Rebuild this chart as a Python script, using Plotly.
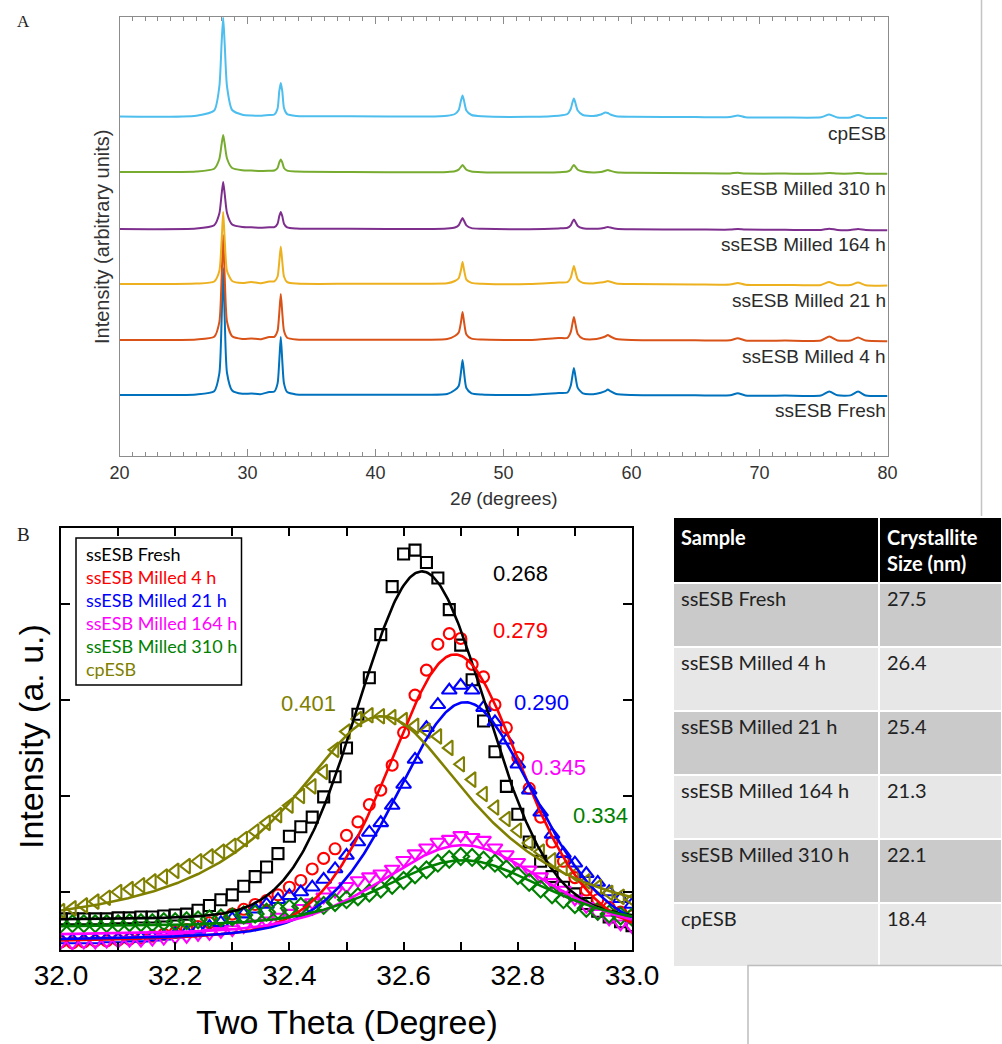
import numpy as np
import plotly.graph_objects as go

W, H = 1002, 1044

# ---------------- Panel A: full XRD patterns (arbitrary units above each baseline) ----------------
TWO_THETA = [20.0, 26.0, 27.4, 27.8, 27.98, 28.1, 28.22, 28.4, 28.8, 29.6,
             30.3, 31.0, 31.7,
             32.1, 32.35, 32.48, 32.6, 32.72, 32.85, 33.1, 33.8,
             38.0, 44.0,
             45.6, 46.2, 46.5, 46.68, 46.8, 46.92, 47.1, 47.5, 48.3,
             52.0,
             54.3, 55.0, 55.25, 55.38, 55.5, 55.62, 55.8, 56.2, 57.0,
             57.6, 57.95, 58.15, 58.35, 58.8, 60.0,
             65.0,
             67.7, 68.3, 68.9,
             72.0,
             74.8, 75.45, 76.1,
             77.1, 77.7, 78.3, 80.0]

XRD_FRESH = [0, 0.6, 3.8, 21.6, 76, 127, 76, 22, 4.5, 1.2,
             1.5, 0.8, 3.0,
             3.5, 11.6, 33.6, 58, 33.6, 11.6, 2.9, 0.6,
             0.2, 0.3,
             1.0, 5.0, 9.0, 23.0, 35.0, 22.4, 7.0, 1.7, 0.5,
             0.0,
             2.0, 2.5, 9.2, 18.7, 27.0, 18.7, 7.1, 1.6, 0.8,
             2.2, 3.8, 5.5, 3.8, 1.0, 0.0,
             -0.3,
             -0.3, 1.8, -0.4,
             -0.6,
             -0.5, 3.5, -0.3,
             -0.4, 3.4, -0.5, -1.0]

XRD_4H = [0, 0.5, 3.2, 17.9, 63, 105, 63, 18.2, 3.7, 1.1,
          1.5, 0.8, 3.0,
          3.2, 9.2, 26.7, 46, 26.7, 9.2, 2.3, 0.5,
          0.2, 0.3,
          0.9, 4.0, 7.5, 18.0, 28.0, 18.0, 5.6, 1.4, 0.4,
          0.0,
          2.0, 2.2, 7.8, 15.9, 23.0, 15.9, 6.0, 1.4, 0.7,
          2.0, 3.5, 5.0, 3.5, 1.0, 0.0,
          -0.3,
          -0.3, 1.8, -0.4,
          -0.6,
          -0.5, 3.5, -0.4,
          -0.5, 2.5, -0.6, -1.2]

XRD_21H = [0, 0.4, 2.5, 13, 44, 72, 44, 13, 3.0, 1.0,
           2.0, 0.8, 2.5,
           2.6, 7.5, 22, 37.5, 22, 7.5, 1.9, 0.4,
           0.2, 0.3,
           0.7, 3.0, 5.8, 14, 22, 14, 4.4, 1.1, 0.3,
           0.0,
           1.5, 1.8, 6.1, 12.4, 18, 12.4, 4.7, 1.1, 0.6,
           1.4, 2.2, 3.0, 2.2, 0.6, 0.0,
           -0.5,
           -0.6, 1.0, -0.7,
           -0.9,
           -0.9, 2.0, -1.0,
           -1.1, 1.5, -1.2, -1.6]

XRD_164H = [0, 0.5, 3.8, 15.5, 35, 47, 35, 16, 4.5, 2.0,
            1.8, 1.3, 1.8,
            1.8, 5.3, 12.7, 17, 12.7, 5.3, 1.6, 0.5,
            0.2, 0.1,
            0.6, 1.5, 3.8, 8.2, 11, 8.2, 3.6, 0.9, 0.3,
            -0.2,
            0.6, 1.2, 3.6, 7.1, 9.5, 7.1, 3.1, 0.8, 0.2,
            0.5, 1.4, 2.0, 1.4, 0.2, -0.3,
            -0.5,
            -0.6, -0.1, -0.6,
            -0.8,
            -0.9, 0.3, -0.9,
            -1.0, 0.0, -1.0, -1.2]

XRD_310H = [0, 0.5, 3.3, 13, 28, 37, 28, 13.5, 4.0, 1.8,
            1.5, 1.0, 1.3,
            1.5, 4.0, 9.4, 12.5, 9.4, 4.0, 1.3, 0.4,
            0.0, -0.3,
            0.1, 0.8, 2.4, 5.2, 7.0, 5.2, 2.3, 0.5, -0.2,
            -0.6,
            -0.2, 0.5, 2.3, 5.2, 7.0, 5.2, 2.3, 0.5, -0.4,
            0.0, 1.2, 2.0, 1.2, -0.2, -0.8,
            -1.2,
            -1.4, -0.8, -1.5,
            -1.6,
            -1.6, -0.9, -1.6,
            -1.6, -1.0, -1.7, -1.8]

XRD_CP = [0, 0.8, 6, 30, 74, 99, 72, 30, 6.5, 1.8,
          1.0, 0.8, 1.5,
          2.0, 8.0, 25, 33.5, 25, 8.5, 2.4, 0.6,
          0.2, 0.0,
          0.8, 2.5, 6.5, 16, 21, 15.5, 6.0, 1.5, 0.2,
          -0.3,
          0.8, 2.5, 7.5, 13.8, 18, 13.5, 6.0, 1.5, 0.4,
          2.0, 4.0, 3.5, 2.0, 0.3, -0.2,
          -0.6,
          -0.6, 1.0, -0.7,
          -1.0,
          -0.8, 2.0, -1.0,
          -0.9, 1.5, -1.2, -1.5]

XRD_NAMES = ["ssESB Fresh", "ssESB Milled 4 h", "ssESB Milled 21 h",
             "ssESB Milled 164 h", "ssESB Milled 310 h", "cpESB"]
XRD_SERIES = [XRD_FRESH, XRD_4H, XRD_21H, XRD_164H, XRD_310H, XRD_CP]
XRD_OFFSET = [61, 116, 172, 227, 284, 339.5]          # vertical stacking of the patterns
XRD_COLORS = ["#0072BD", "#D95319", "#EDB120", "#7E2F8E", "#77AC30", "#4DBEEE"]

# ---------------- Panel B: peak near 32.6 deg, measured points and fits ----------------
THETA_B = [32.00, 32.02, 32.04, 32.06, 32.08, 32.10, 32.12, 32.14, 32.16, 32.18,
           32.20, 32.22, 32.24, 32.26, 32.28, 32.30, 32.32, 32.34, 32.36, 32.38,
           32.40, 32.42, 32.44, 32.46, 32.48, 32.50, 32.52, 32.54, 32.56, 32.58,
           32.60, 32.62, 32.64, 32.66, 32.68, 32.70, 32.72, 32.74, 32.76, 32.78,
           32.80, 32.82, 32.84, 32.86, 32.88, 32.90, 32.92, 32.94, 32.96, 32.98, 33.00]

PEAK_FRESH = [0.72, 0.72, 0.72, 0.72, 0.72, 0.73, 0.73, 0.74, 0.74, 0.75,
              0.76, 0.77, 0.81, 0.86, 0.92, 0.97, 1.06, 1.16, 1.26, 1.40,
              1.58, 1.68, 1.78, 1.99, 2.20, 2.50, 2.85, 3.23, 3.68, 4.18,
              4.52, 4.56, 4.43, 4.27, 3.94, 3.57, 3.21, 2.78, 2.46, 2.10,
              1.81, 1.52, 1.32, 1.16, 1.05, 0.98, 0.88, 0.80, 0.74, 0.69, 0.65]
PEAK_4H = [0.48, 0.47, 0.48, 0.49, 0.49, 0.50, 0.51, 0.52, 0.54, 0.56,
           0.58, 0.61, 0.64, 0.68, 0.72, 0.77, 0.82, 0.87, 0.91, 0.97,
           1.05, 1.12, 1.24, 1.35, 1.45, 1.59, 1.73, 1.91, 2.06, 2.32,
           2.66, 3.05, 3.31, 3.58, 3.69, 3.64, 3.37, 3.24, 2.95, 2.71,
           2.40, 2.08, 1.78, 1.52, 1.32, 1.15, 1.02, 0.92, 0.84, 0.79, 0.75]
PEAK_21H = [0.50, 0.50, 0.50, 0.50, 0.51, 0.51, 0.52, 0.52, 0.53, 0.54,
            0.56, 0.58, 0.61, 0.64, 0.68, 0.72, 0.77, 0.82, 0.87, 0.92,
            0.96, 1.00, 1.05, 1.13, 1.24, 1.38, 1.52, 1.62, 1.72, 1.90,
            2.12, 2.38, 2.71, 2.95, 3.10, 3.15, 3.10, 2.92, 2.77, 2.58,
            2.33, 2.06, 1.83, 1.60, 1.40, 1.30, 1.19, 1.10, 1.00, 0.93, 0.87]
PEAK_164H = [0.48, 0.47, 0.48, 0.48, 0.49, 0.49, 0.50, 0.50, 0.51, 0.52,
             0.53, 0.54, 0.56, 0.57, 0.59, 0.61, 0.64, 0.67, 0.70, 0.74,
             0.78, 0.83, 0.89, 0.95, 1.01, 1.06, 1.12, 1.16, 1.19, 1.24,
             1.33, 1.40, 1.46, 1.52, 1.55, 1.59, 1.57, 1.54, 1.46, 1.39,
             1.31, 1.23, 1.16, 1.10, 1.02, 0.93, 0.85, 0.78, 0.72, 0.67, 0.64]
PEAK_310H = [0.67, 0.67, 0.67, 0.67, 0.67, 0.67, 0.68, 0.68, 0.68, 0.69,
             0.69, 0.70, 0.71, 0.72, 0.73, 0.74, 0.76, 0.77, 0.79, 0.81,
             0.83, 0.85, 0.85, 0.86, 0.89, 0.92, 0.95, 0.99, 1.03, 1.07,
             1.12, 1.18, 1.23, 1.30, 1.34, 1.37, 1.36, 1.33, 1.30, 1.24,
             1.17, 1.10, 1.03, 0.97, 0.92, 0.87, 0.83, 0.80, 0.77, 0.75, 0.74]
PEAK_CP = [0.80, 0.83, 0.86, 0.90, 0.94, 1.00, 1.03, 1.07, 1.11, 1.16,
           1.22, 1.27, 1.32, 1.37, 1.42, 1.48, 1.55, 1.63, 1.72, 1.80,
           1.90, 2.00, 2.10, 2.25, 2.48, 2.67, 2.80, 2.84, 2.83, 2.82,
           2.79, 2.73, 2.68, 2.62, 2.50, 2.33, 2.17, 2.02, 1.88, 1.76,
           1.64, 1.51, 1.42, 1.33, 1.25, 1.18, 1.11, 1.05, 0.99, 0.95, 0.92]

PEAK_SERIES = [PEAK_FRESH, PEAK_4H, PEAK_21H, PEAK_164H, PEAK_310H, PEAK_CP]

# pseudo-Voigt fit parameters; FWHM values are the ones printed next to each curve
FIT_CENTER = [32.632, 32.690, 32.708, 32.704, 32.704, 32.562]
FIT_FWHM = [0.268, 0.279, 0.290, 0.345, 0.334, 0.401]
FIT_TOP = [4.338, 3.474, 2.976, 1.488, 1.331, 2.830]
FIT_BASE = [0.70, 0.46, 0.48, 0.54, 0.63, 0.55]
FIT_ETA = [0.1, 0.3, 0.3, 0.4, 0.4, 1.0]

B_COLORS = ["#000000", "#FF0000", "#0000FF", "#FF00FF", "#008000", "#808000"]
B_SYMBOLS = ["square-open", "circle-open", "triangle-up-open",
             "triangle-down-open", "diamond-open", "triangle-left-open"]
B_SIZES = [11, 11, 13, 13, 13, 13]

# positions of the FWHM labels (data coordinates of panel B)
FWHM_LABEL_X = [32.804, 32.804, 32.842, 32.872, 32.944, 32.433]
FWHM_LABEL_Y = [4.32, 3.72, 2.97, 2.30, 1.80, 2.96]

# ---------------- Table ----------------
TABLE_SAMPLES = ["ssESB Fresh", "ssESB Milled 4 h", "ssESB Milled 21 h",
                 "ssESB Milled 164 h", "ssESB Milled 310 h", "cpESB"]
CRYSTALLITE_NM = [27.5, 26.4, 25.4, 21.3, 22.1, 18.4]


def px(x):
    return x / W


def py(y):
    return 1 - y / H


fig = go.Figure()

# Panel A traces
for vals, off, col in zip(XRD_SERIES, XRD_OFFSET, XRD_COLORS):
    fig.add_trace(go.Scatter(
        x=TWO_THETA, y=[v + off for v in vals], mode="lines",
        line=dict(color=col, width=2.0, shape="spline", smoothing=0.6),
        xaxis="x", yaxis="y", showlegend=False, hoverinfo="skip"))


def pseudo_voigt(x, c, w, eta):
    g = np.exp(-4 * np.log(2) * ((x - c) / w) ** 2)
    lo = 1.0 / (1.0 + (2 * (x - c) / w) ** 2)
    return eta * lo + (1 - eta) * g


fit_x = np.linspace(32.0, 33.0, 401)

# Panel B: measured points, then fitted curves
for i in range(6):
    fig.add_trace(go.Scatter(
        x=THETA_B, y=PEAK_SERIES[i], mode="markers",
        marker=dict(symbol=B_SYMBOLS[i], size=B_SIZES[i], color=B_COLORS[i],
                    line=dict(color=B_COLORS[i], width=2.1)),
        xaxis="x2", yaxis="y2", showlegend=False, hoverinfo="skip"))
for i in range(6):
    fit_y = FIT_BASE[i] + (FIT_TOP[i] - FIT_BASE[i]) * pseudo_voigt(
        fit_x, FIT_CENTER[i], FIT_FWHM[i], FIT_ETA[i])
    fig.add_trace(go.Scatter(
        x=fit_x, y=fit_y, mode="lines",
        line=dict(color=B_COLORS[i], width=2.6),
        xaxis="x2", yaxis="y2", showlegend=False, hoverinfo="skip"))

# Table of crystallite sizes
ROW_FILL = ["#CACACA", "#E7E7E7"]
row_colors = [ROW_FILL[i % 2] for i in range(len(TABLE_SAMPLES))]
fig.add_trace(go.Table(
    domain=dict(x=[px(673), 1.0], y=[py(968), py(516.5)]),
    columnwidth=[206, 123],
    header=dict(values=["<b>Sample</b>", "<b>Crystallite<br>Size (nm)</b>"],
                fill_color="black", align="left", height=61,
                line=dict(color="white", width=2),
                font=dict(family="Lato", size=20, color="white")),
    cells=dict(values=[TABLE_SAMPLES, [f"{v:.1f}" for v in CRYSTALLITE_NM]],
               fill_color=[row_colors, row_colors], align="left", height=64,
               line=dict(color="white", width=2),
               font=dict(family="Lato", size=20, color="#222222"))))

grey = "#8C8C8C"
annotations = []

# Panel A texts
label_y = [410.7, 356, 300, 244.5, 189, 133.3]
for name, yy in zip(XRD_NAMES, label_y):
    annotations.append(dict(text=name, x=px(887.5), y=py(yy), xref="paper", yref="paper",
                            xanchor="right", yanchor="middle", showarrow=False,
                            font=dict(family="Liberation Sans", size=19, color="#2B2B2B")))
annotations.append(dict(text="2<i>θ</i> (degrees)", x=px(503.5), y=py(499), xref="paper",
                        yref="paper", showarrow=False, xanchor="center", yanchor="middle",
                        font=dict(family="Liberation Sans", size=19, color="#333333")))
annotations.append(dict(text="Intensity (arbitrary units)", x=px(102), y=py(237), xref="paper",
                        yref="paper", showarrow=False, textangle=-90, xanchor="center",
                        yanchor="middle",
                        font=dict(family="Liberation Sans", size=20, color="#333333")))
annotations.append(dict(text="A", x=px(23), y=py(22), xref="paper", yref="paper",
                        showarrow=False, xanchor="center", yanchor="middle",
                        font=dict(family="Liberation Serif", size=17, color="#222222")))
annotations.append(dict(text="B", x=px(23), y=py(534), xref="paper", yref="paper",
                        showarrow=False, xanchor="center", yanchor="middle",
                        font=dict(family="Liberation Serif", size=19, color="#222222")))

# Panel B texts
annotations.append(dict(text="Two Theta (Degree)", x=px(347), y=py(1022), xref="paper",
                        yref="paper", showarrow=False, xanchor="center", yanchor="middle",
                        font=dict(family="Liberation Sans", size=34, color="black")))
annotations.append(dict(text="Intensity (a. u.)", x=px(31), y=py(737), xref="paper",
                        yref="paper", showarrow=False, textangle=-90, xanchor="center",
                        yanchor="middle",
                        font=dict(family="Liberation Sans", size=34, color="black")))
for i in range(6):
    annotations.append(dict(text=f"{FIT_FWHM[i]:.3f}", x=FWHM_LABEL_X[i], y=FWHM_LABEL_Y[i],
                            xref="x2", yref="y2", showarrow=False, xanchor="center",
                            yanchor="middle",
                            font=dict(family="Liberation Sans", size=22, color=B_COLORS[i])))
# text-only legend
for i, name in enumerate(XRD_NAMES):
    annotations.append(dict(text=name, x=px(84), y=py(554.3 + 23.0 * i), xref="paper",
                            yref="paper", showarrow=False, xanchor="left", yanchor="middle",
                            font=dict(family="Lato", size=18, color=B_COLORS[i])))

shapes = [
    dict(type="rect", xref="paper", yref="paper", x0=px(76), x1=px(241.5),
         y0=py(685), y1=py(538), line=dict(color="black", width=1.5)),
    dict(type="line", xref="paper", yref="paper", x0=px(981.5), x1=px(981.5),
         y0=1.0, y1=py(516), line=dict(color="#C4C4C4", width=1.5)),
    dict(type="path", xref="paper", yref="paper",
         path=f"M {px(748)} {py(1044)} L {px(748)} {py(965.5)} L 1.0 {py(965.5)}",
         line=dict(color="#BDBDBD", width=1.5)),
]

fig.update_layout(
    width=W, height=H, autosize=False,
    margin=dict(l=0, r=0, t=0, b=0, pad=0, autoexpand=False),
    paper_bgcolor="white", plot_bgcolor="white",
    showlegend=False,
    xaxis=dict(domain=[px(119.5), px(887.5)], range=[20, 80], anchor="y",
               automargin=False,
               showline=True, linecolor=grey, linewidth=1, mirror="ticks",
               ticks="inside", ticklen=7, tickcolor=grey, tickwidth=1,
               tick0=0, dtick=10,
               minor=dict(dtick=1, ticks="inside", ticklen=4, tickcolor=grey),
               showgrid=False, zeroline=False,
               tickfont=dict(family="Liberation Sans", size=18, color="#333333")),
    yaxis=dict(domain=[py(456), py(16.5)], range=[0, 439.5], anchor="x",
               automargin=False,
               showline=True, linecolor=grey, linewidth=1, mirror=True,
               ticks="", showticklabels=False, showgrid=False, zeroline=False),
    xaxis2=dict(domain=[px(61), px(632)], range=[32.0, 33.0], anchor="y2",
                automargin=False,
                showline=True, linecolor="black", linewidth=1.5, mirror="ticks",
                ticks="inside", ticklen=8, tickwidth=1.5, tickcolor="black",
                tickvals=[32.0, 32.2, 32.4, 32.6, 32.8, 33.0], tickformat=".1f",
                minor=dict(tickvals=[32.1, 32.3, 32.5, 32.7, 32.9], ticks="inside",
                           ticklen=8, tickwidth=1.5, tickcolor="black"),
                showgrid=False, zeroline=False,
                tickfont=dict(family="Liberation Sans", size=28, color="black")),
    yaxis2=dict(domain=[py(950), py(528)], range=[0.396, 4.79], anchor="x2",
                automargin=False,
                showline=True, linecolor="black", linewidth=1.5, mirror="ticks",
                ticks="inside", ticklen=9, tickwidth=1.5, tickcolor="black",
                tickvals=[1, 2, 3, 4], showticklabels=False,
                showgrid=False, zeroline=False),
    annotations=annotations,
    shapes=shapes,
)

fig.write_html("out.html")
